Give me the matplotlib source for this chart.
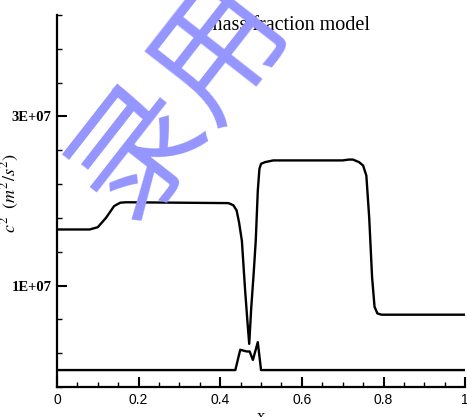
import numpy as np
import matplotlib
matplotlib.use('Agg')
import matplotlib.pyplot as plt
from matplotlib.ticker import FixedLocator, MultipleLocator

# upper curve (units of 1E+07)
x_upper = [0, 0.08, 0.10, 0.12, 0.14, 0.155, 0.17, 0.42, 0.432, 0.44, 0.446, 0.453,
           0.461, 0.467, 0.471, 0.476, 0.482, 0.487, 0.492, 0.496, 0.50, 0.51, 0.53,
           0.70, 0.715, 0.725, 0.74, 0.75, 0.758, 0.765, 0.772, 0.778, 0.785, 0.795, 1.0]
c2_upper = [1.663, 1.663, 1.69, 1.80, 1.94, 1.98, 1.985, 1.975, 1.95, 1.89, 1.75, 1.53,
            0.94, 0.55, 0.31, 0.74, 1.15, 1.53, 2.12, 2.38, 2.44, 2.46, 2.48,
            2.48, 2.49, 2.49, 2.46, 2.42, 2.30, 1.80, 1.10, 0.75, 0.67, 0.655, 0.655]

# lower curve (units of 1E+07)
x_lower = [0, 0.437, 0.449, 0.465, 0.472, 0.48, 0.492, 0.50, 1.0]
c2_lower = [0, 0, 0.24, 0.22, 0.22, 0.12, 0.33, 0, 0]

title = 'mass fraction model'
ytick_vals = [1e7, 3e7]
ytick_labels = ['1E+07', '3E+07']
xtick_vals = [0, 0.2, 0.4, 0.6, 0.8, 1.0]
xtick_labels = ['0', '0.2', '0.4', '0.6', '0.8', '1']

plt.rcParams['mathtext.fontset'] = 'stix'

fig = plt.figure(figsize=(4.67, 4.17), dpi=100)
ax = fig.add_axes([0.122, 0.072, 0.874, 0.892])

scale = 1e7
ax.plot(x_upper, np.array(c2_upper) * scale, color='black', lw=1.7)
ax.plot(x_lower, np.array(c2_lower) * scale, color='black', lw=1.7)

ax.set_xlim(0, 1)
ax.set_ylim(-0.2e7, 4.2e7)

for side in ['top', 'right']:
    ax.spines[side].set_visible(False)
for side in ['left', 'bottom']:
    ax.spines[side].set_linewidth(1.6)

ax.xaxis.set_major_locator(FixedLocator(xtick_vals))
ax.xaxis.set_minor_locator(MultipleLocator(0.05))
ax.set_xticklabels(xtick_labels, family='Liberation Sans', fontsize=10)
ax.yaxis.set_major_locator(FixedLocator(ytick_vals))
ax.yaxis.set_minor_locator(FixedLocator(np.arange(-0.2, 4.21, 0.4) * 1e7))
ax.set_yticklabels(ytick_labels, family='Liberation Serif', fontweight='bold', fontsize=10.5)

ax.tick_params(which='major', direction='in', length=7, width=1.5, pad=4)
ax.tick_params(which='minor', direction='in', length=3.5, width=1.0)

ax.set_xlabel('x', family='Liberation Serif', fontsize=12, labelpad=2)
ax.set_ylabel(r'$c^2\ \ (m^2/s^2)$', fontsize=13)
ax.yaxis.set_label_coords(-0.088, 0.52)

fig.text(0.617, 0.94, title, family='Liberation Serif', fontsize=14.5,
         ha='center', va='center')

# watermark
fig.text(0.385, 0.765, '录用', family=['Noto Sans CJK SC', 'DejaVu Sans'],
         fontsize=94, color='#9595ff', rotation=52, ha='center', va='center',
         fontweight='light', zorder=10)

fig.savefig('out.png', dpi=100)
